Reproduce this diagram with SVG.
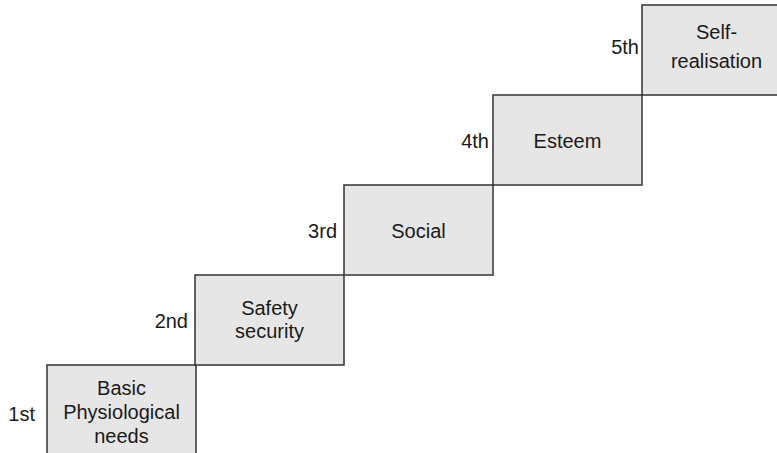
<svg xmlns="http://www.w3.org/2000/svg" width="777" height="453" viewBox="0 0 777 453">
<style>
.step{fill:#e6e6e6;stroke:#333;stroke-width:1.5}
.t{font-family:"Liberation Sans",Arial,sans-serif;font-size:20px;fill:#1a1a1a;text-anchor:middle}
.l{font-family:"Liberation Sans",Arial,sans-serif;font-size:20px;fill:#1a1a1a;text-anchor:end}
</style>
<rect width="777" height="453" fill="#fff"/>
<g id="connectors"></g>
<g id="step1">
<rect class="step" x="47" y="365" width="149" height="92"/>
<text class="t" x="121.5" y="395">Basic</text>
<text class="t" x="121.5" y="419">Physiological</text>
<text class="t" x="121.5" y="443">needs</text>
<text class="l" x="35" y="421">1st</text>
</g>
<g id="step2">
<rect class="step" x="195" y="275" width="149" height="90"/>
<text class="t" x="269.5" y="315">Safety</text>
<text class="t" x="269.5" y="338">security</text>
<text class="l" x="188" y="328">2nd</text>
</g>
<g id="step3">
<rect class="step" x="344" y="185" width="149" height="90"/>
<text class="t" x="418.5" y="238">Social</text>
<text class="l" x="337" y="238">3rd</text>
</g>
<g id="step4">
<rect class="step" x="493" y="95" width="149" height="90"/>
<text class="t" x="567.5" y="148">Esteem</text>
<text class="l" x="489" y="148">4th</text>
</g>
<g id="step5">
<rect class="step" x="642" y="5" width="149" height="90"/>
<text class="t" x="716.5" y="39">Self-</text>
<text class="t" x="716.5" y="68">realisation</text>
<text class="l" x="639" y="54">5th</text>
</g>
</svg>
